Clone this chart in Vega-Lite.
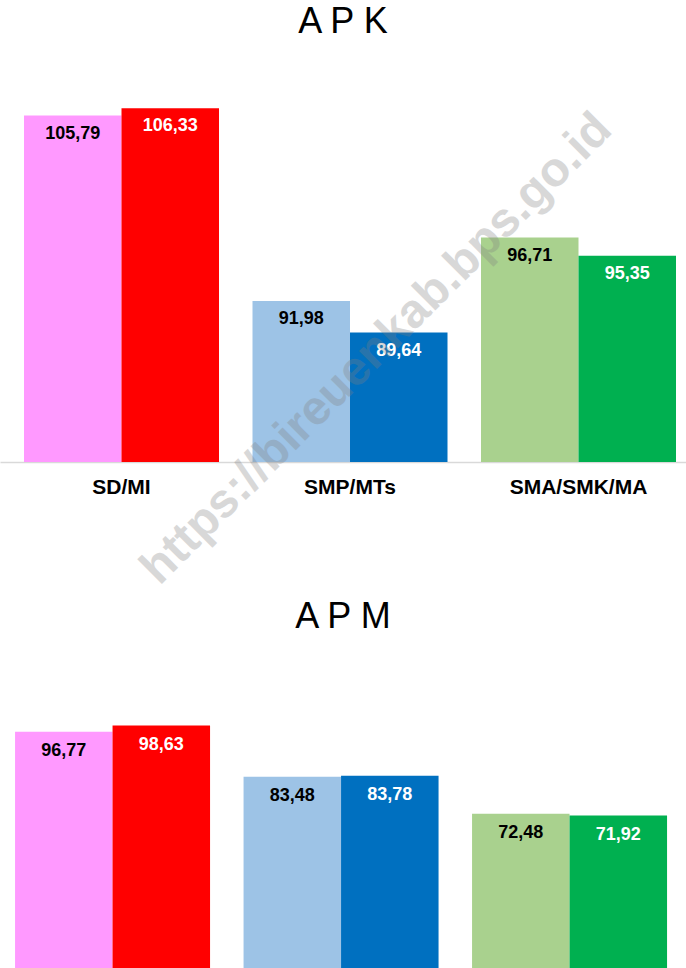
{
  "$schema": "https://vega.github.io/schema/vega-lite/v6.json",
  "padding": {"top": 4, "left": 0, "right": 0, "bottom": 0},
  "background": "white",
  "spacing": 5,
  "config": {
    "view": {"stroke": null},
    "font": "Liberation Sans",
    "locale": {"number": {"decimal": ",", "thousands": ".", "grouping": [3], "currency": ["Rp", ""]}}
  },
  "datasets": {
    "apk": [
      {"kategori": "SD/MI", "seri": "1", "kunci": "SD/MI 1", "nilai": 105.79},
      {"kategori": "SD/MI", "seri": "2", "kunci": "SD/MI 2", "nilai": 106.33},
      {"kategori": "SMP/MTs", "seri": "1", "kunci": "SMP/MTs 1", "nilai": 91.98},
      {"kategori": "SMP/MTs", "seri": "2", "kunci": "SMP/MTs 2", "nilai": 89.64},
      {"kategori": "SMA/SMK/MA", "seri": "1", "kunci": "SMA/SMK/MA 1", "nilai": 96.71},
      {"kategori": "SMA/SMK/MA", "seri": "2", "kunci": "SMA/SMK/MA 2", "nilai": 95.35}
    ],
    "apm": [
      {"kategori": "SD/MI", "seri": "1", "kunci": "SD/MI 1", "nilai": 96.77},
      {"kategori": "SD/MI", "seri": "2", "kunci": "SD/MI 2", "nilai": 98.63},
      {"kategori": "SMP/MTs", "seri": "1", "kunci": "SMP/MTs 1", "nilai": 83.48},
      {"kategori": "SMP/MTs", "seri": "2", "kunci": "SMP/MTs 2", "nilai": 83.78},
      {"kategori": "SMA/SMK/MA", "seri": "1", "kunci": "SMA/SMK/MA 1", "nilai": 72.48},
      {"kategori": "SMA/SMK/MA", "seri": "2", "kunci": "SMA/SMK/MA 2", "nilai": 71.92}
    ],
    "wm": [{"t": "https://bireuenkab.bps.go.id"}]
  },
  "vconcat": [
    {
      "title": {"text": "A P K", "fontSize": 36, "fontWeight": "normal", "font": "Liberation Sans", "color": "black", "offset": 18, "anchor": "middle"},
      "width": 686,
      "height": 403,
      "resolve": {"scale": {"color": "independent"}},
      "layer": [
        {
          "data": {"name": "apk"},
          "mark": {"type": "bar", "clip": true},
          "encoding": {
            "x": {"field": "kategori", "type": "nominal", "sort": null,
              "scale": {"paddingInner": 0.1466, "paddingOuter": 0.0744, "align": 0.706},
              "axis": {"title": null, "labelAngle": 0, "labelFont": "Liberation Sans", "labelFontSize": 21, "labelFontWeight": "bold", "labelColor": "black", "ticks": false, "domainColor": "#d9d9d9", "domainWidth": 1.5, "labelPadding": 14}},
            "xOffset": {"field": "seri", "type": "nominal", "scale": {"paddingInner": 0, "paddingOuter": 0}},
            "y": {"field": "nilai", "type": "quantitative", "scale": {"domain": [80, 110], "nice": false, "zero": false}, "axis": null},
            "color": {"field": "kunci", "type": "nominal", "legend": null,
              "scale": {"domain": ["SD/MI 1", "SD/MI 2", "SMP/MTs 1", "SMP/MTs 2", "SMA/SMK/MA 1", "SMA/SMK/MA 2"],
                "range": ["#FF99FF", "#FF0000", "#9DC3E6", "#0070C0", "#A9D18E", "#00B050"]}}
          }
        },
        {
          "data": {"name": "apk"},
          "mark": {"type": "text", "dy": 18, "fontSize": 18, "fontWeight": "bold", "baseline": "middle", "font": "Liberation Sans"},
          "encoding": {
            "x": {"field": "kategori", "type": "nominal", "sort": null},
            "xOffset": {"field": "seri", "type": "nominal"},
            "y": {"field": "nilai", "type": "quantitative"},
            "text": {"field": "nilai", "type": "quantitative", "format": ".2f"},
            "color": {"field": "seri", "type": "nominal", "legend": null, "scale": {"domain": ["1", "2"], "range": ["black", "white"]}}
          }
        },
        {
          "data": {"name": "wm"},
          "mark": {"type": "text", "angle": -45, "fontSize": 48, "fontWeight": "bold", "font": "Liberation Sans", "color": "#808080", "opacity": 0.3, "align": "center", "baseline": "middle", "dx": 38},
          "encoding": {
            "x": {"datum": "SMP/MTs"},
            "y": {"datum": 86.4},
            "text": {"field": "t", "type": "nominal"}
          }
        }
      ]
    },
    {
      "title": {"text": "A P M", "fontSize": 36, "fontWeight": "normal", "font": "Liberation Sans", "color": "black", "offset": 25, "anchor": "middle"},
      "width": 686,
      "height": 310,
      "resolve": {"scale": {"color": "independent"}},
      "layer": [
        {
          "data": {"name": "apm"},
          "mark": {"type": "bar", "clip": true},
          "encoding": {
            "x": {"field": "kategori", "type": "nominal", "sort": null,
              "scale": {"paddingInner": 0.151, "paddingOuter": 0.0766, "align": 0.43},
              "axis": null},
            "xOffset": {"field": "seri", "type": "nominal", "scale": {"paddingInner": 0, "paddingOuter": 0}},
            "y": {"field": "nilai", "type": "quantitative", "scale": {"domain": [25.8, 117.8], "nice": false, "zero": false}, "axis": null},
            "color": {"field": "kunci", "type": "nominal", "legend": null,
              "scale": {"domain": ["SD/MI 1", "SD/MI 2", "SMP/MTs 1", "SMP/MTs 2", "SMA/SMK/MA 1", "SMA/SMK/MA 2"],
                "range": ["#FF99FF", "#FF0000", "#9DC3E6", "#0070C0", "#A9D18E", "#00B050"]}}
          }
        },
        {
          "data": {"name": "apm"},
          "mark": {"type": "text", "dy": 19, "fontSize": 18, "fontWeight": "bold", "baseline": "middle", "font": "Liberation Sans"},
          "encoding": {
            "x": {"field": "kategori", "type": "nominal", "sort": null},
            "xOffset": {"field": "seri", "type": "nominal"},
            "y": {"field": "nilai", "type": "quantitative"},
            "text": {"field": "nilai", "type": "quantitative", "format": ".2f"},
            "color": {"field": "seri", "type": "nominal", "legend": null, "scale": {"domain": ["1", "2"], "range": ["black", "white"]}}
          }
        }
      ]
    }
  ]
}
